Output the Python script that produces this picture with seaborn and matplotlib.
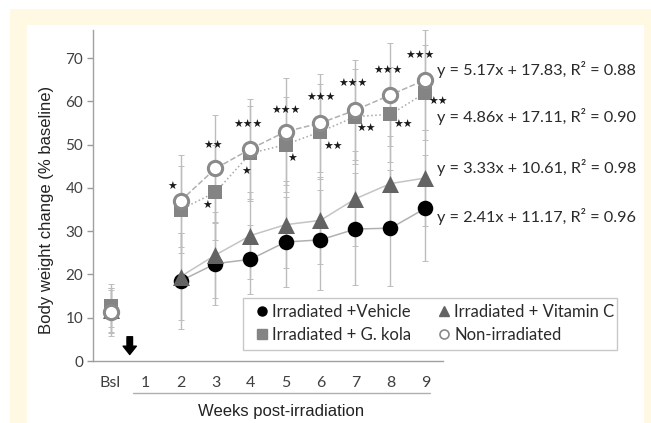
import numpy as np
import pandas as pd
import matplotlib
matplotlib.use("Agg")
import matplotlib.pyplot as plt
from matplotlib.patches import Rectangle
from matplotlib.lines import Line2D
from matplotlib.transforms import blended_transform_factory
import seaborn as sns

# ---------------- data ----------------
weeks = ["Bsl", "1", "2", "3", "4", "5", "6", "7", "8", "9"]
vehicle = [11.5, np.nan, 18.5, 22.5, 23.5, 27.5, 28.0, 30.5, 30.7, 35.3]
vitamin_c = [11.8, np.nan, 19.5, 24.5, 29.0, 31.5, 32.5, 37.5, 41.0, 42.3]
g_kola = [12.8, np.nan, 35.0, 39.0, 48.0, 50.0, 53.0, 56.5, 57.0, 62.0]
non_irr = [11.3, np.nan, 37.0, 44.5, 49.0, 53.0, 55.0, 58.0, 61.5, 65.0]

sd_vehicle = [5.0, np.nan, 11.1, 9.5, 8.0, 10.5, 11.6, 13.0, 13.4, 12.3]
sd_vitamin_c = [5.0, np.nan, 10.0, 10.0, 10.0, 10.0, 10.0, 11.0, 11.0, 11.0]
sd_g_kola = [5.0, np.nan, 10.0, 11.0, 11.0, 11.0, 11.0, 11.0, 11.0, 11.0]
sd_non_irr = [5.6, np.nan, 10.6, 12.3, 11.5, 12.3, 11.3, 11.5, 11.9, 11.6]

stars_non_irr = ["", "", "*", "**", "***", "***", "***", "***", "***", "***"]
stars_g_kola = ["", "", "", "*", "*", "*", "**", "**", "**", "**"]

equations = ["y = 5.17x + 17.83, R² = 0.88",
             "y = 4.86x + 17.11, R² = 0.90",
             "y = 3.33x + 10.61, R² = 0.98",
             "y = 2.41x + 11.17, R² = 0.96"]
eq_y = [67.4, 56.4, 44.8, 33.3]

labels = ["Irradiated +Vehicle", "Irradiated + G. kola",
          "Irradiated + Vitamin C", "Non-irradiated"]

# ---------------- figure ----------------
sns.set_style("white")
plt.rcParams['font.family'] = ['Lato', 'DejaVu Sans']

W, H = 651, 423
fig = plt.figure(figsize=(W / 100, H / 100), dpi=100)
fig.patch.set_facecolor("white")
fig.add_artist(Rectangle((10 / W, 0), (W - 10) / W, (H - 9) / H,
                         transform=fig.transFigure, facecolor="#FFF8E2",
                         edgecolor="none", zorder=-10))
fig.add_artist(Rectangle((27 / W, 0), (644 - 27) / W, (H - 25) / H,
                         transform=fig.transFigure, facecolor="white",
                         edgecolor="none", zorder=-9))

ax = fig.add_axes([93 / W, 1 - 361 / H, (443 - 93) / W, 331 / H])
ax.set_facecolor("none")

x = np.arange(len(weeks))
series = [
    ("vehicle", vehicle, sd_vehicle, dict(marker="o", s=125, color="black", edgecolor="black", linewidth=0), "-", "#b0b0b0"),
    ("vitc", vitamin_c, sd_vitamin_c, dict(marker="^", s=150, color="#636363", edgecolor="#636363", linewidth=0), "-", "#c4c4c4"),
    ("gkola", g_kola, sd_g_kola, dict(marker="s", s=105, color="#848484", edgecolor="#848484", linewidth=0), ":", "#a8a8a8"),
    ("nonirr", non_irr, sd_non_irr, dict(marker="o", s=105, color="white", edgecolor="#8a8a8a", linewidth=2.2), "--", "#b0b0b0"),
]

# error bars
for name, vals, sd, mk, ls, lc in series:
    v = np.array(vals, dtype=float)
    e = np.array(sd, dtype=float)
    ax.errorbar(x, v, yerr=e, fmt="none", ecolor="#bdbdbd", elinewidth=1.0,
                capsize=2, capthick=0.7, zorder=1)

# connecting lines (weeks 2-9) and markers
for i, (name, vals, sd, mk, ls, lc) in enumerate(series):
    df = pd.DataFrame({"x": x, "y": vals}).dropna()
    line_df = df[df["x"] >= 2]
    sns.lineplot(data=line_df, x="x", y="y", ax=ax, color=lc, linestyle=ls,
                 linewidth=1.1, zorder=2 + i, legend=False)
for i, (name, vals, sd, mk, ls, lc) in enumerate(series):
    df = pd.DataFrame({"x": x, "y": vals}).dropna()
    sns.scatterplot(data=df, x="x", y="y", ax=ax, zorder=10 + i, legend=False, **mk)

# stars
off_non = [None, None, (-8, 14), (-2, 23), (-3, 24), (0, 21), (0, 25), (-3, 26), (-3, 24), (-6, 24)]
off_gk = [None, None, None, (-8, -14), (-4, -19), (7, -14), (13, -15), (11, -12), (13, -11), (13, -9)]
for vals, stars, offs in [(non_irr, stars_non_irr, off_non), (g_kola, stars_g_kola, off_gk)]:
    for xi, (v, st, of) in enumerate(zip(vals, stars, offs)):
        if st and of is not None:
            ax.annotate("★" * len(st), (xi, v), xytext=(of[0], of[1]),
                        textcoords="offset pixels", ha="center", va="center",
                        fontsize=7.8, family=["DejaVu Sans"], color="#1a1a1a",
                        zorder=20, annotation_clip=False)

# equations
for eq, yy in zip(equations, eq_y):
    ax.text(9.33, yy, eq, fontsize=11.7, color="#2a2a2a", ha="left", va="center",
            clip_on=False)

# arrow marking irradiation
ax.annotate("", xy=(0.55, 1.5), xytext=(0.55, 5.6),
            arrowprops=dict(facecolor="black", edgecolor="black", width=4.0,
                            headwidth=9.5, headlength=6.0, shrink=0.0),
            annotation_clip=False)

# axes styling
ax.set_xlim(-0.5, 9.5)
ax.set_ylim(0, 76.5)
ax.set_yticks([0, 10, 20, 30, 40, 50, 60, 70])
ax.set_xticks(x)
ax.set_xticklabels(weeks)
ax.set_xticks(np.arange(-0.5, 10, 1.0), minor=True)
ax.tick_params(axis="x", which="major", length=0, pad=11, labelsize=11.5, labelcolor="#404040")
ax.tick_params(axis="x", which="minor", length=5, color="#9a9a9a", width=1)
ax.tick_params(axis="y", which="major", length=4, color="#9a9a9a", width=1,
               labelsize=11, labelcolor="#404040", pad=3, left=True)
for s in ["top", "right"]:
    ax.spines[s].set_visible(False)
for s in ["left", "bottom"]:
    ax.spines[s].set_color("#a0a0a0")
    ax.spines[s].set_linewidth(1)
ax.set_xlabel("")
ax.set_ylabel("")

# group line under week labels
tr = blended_transform_factory(ax.transData, ax.transAxes)
ax.add_line(Line2D([0.65, 9.14], [-0.097, -0.097], transform=tr, color="#b0b0b0",
                   linewidth=1, clip_on=False))

fig.text(281 / W, 1 - 411 / H, "Weeks post-irradiation", ha="center", va="center",
         fontsize=12, family=["Liberation Sans"], color="#222222")
fig.text(47 / W, 1 - 210 / H, "Body weight change (% baseline)", ha="center", va="center",
         rotation=90, fontsize=12, family=["Liberation Sans"], color="#222222")

# legend
handles = [
    Line2D([], [], linestyle="none", marker="o", markersize=6.5, color="black"),
    Line2D([], [], linestyle="none", marker="s", markersize=6.5, color="#848484"),
    Line2D([], [], linestyle="none", marker="^", markersize=6.5, color="#636363"),
    Line2D([], [], linestyle="none", marker="o", markersize=6.5, markerfacecolor="white",
           markeredgecolor="#8a8a8a", markeredgewidth=1.2),
]
fig.add_artist(Rectangle((243 / W, 1 - 350 / H), (617 - 243) / W, 52 / H,
                         transform=fig.transFigure, facecolor="white",
                         edgecolor="#c8c8c8", linewidth=1, zorder=30))
leg = fig.legend(handles, labels, ncol=2, loc="upper left",
                 bbox_to_anchor=(257 / W, 1 - 304 / H), frameon=False,
                 fontsize=12, handlelength=0.6, handletextpad=0.3, columnspacing=1.7,
                 borderpad=0, labelspacing=0.42, borderaxespad=0)
leg.set_zorder(31)
for t in leg.get_texts():
    t.set_color("#2a2a2a")

fig.savefig("out.png", dpi=100, facecolor=fig.get_facecolor())
